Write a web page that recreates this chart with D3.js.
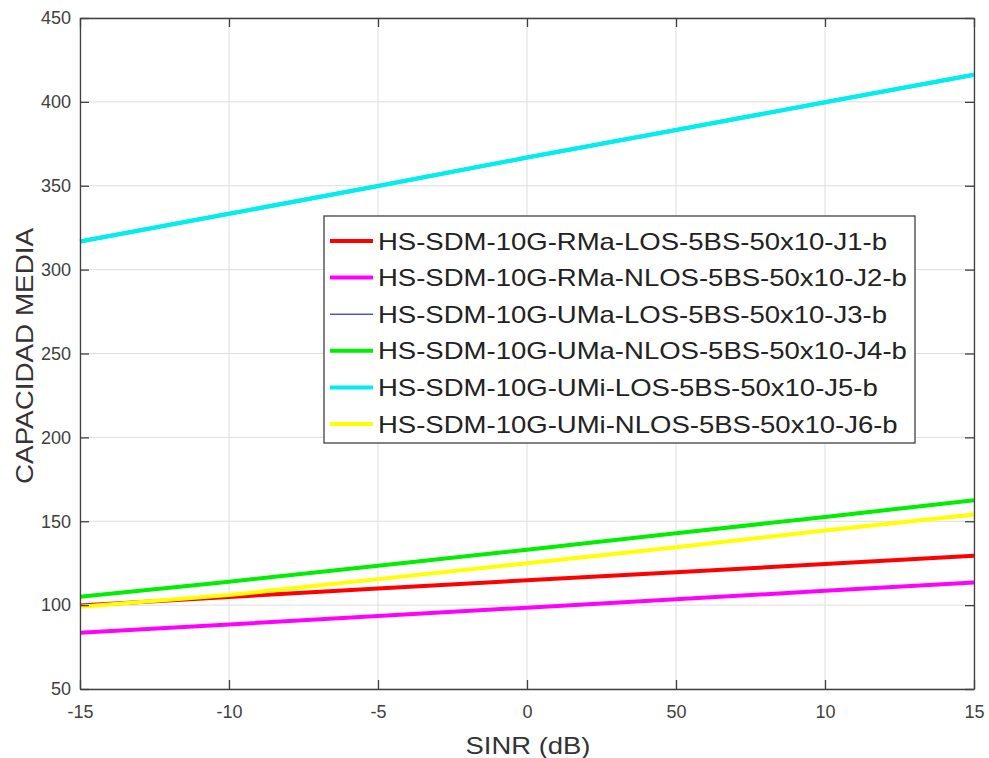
<!DOCTYPE html>
<html><head><meta charset="utf-8">
<script src="https://cdn.jsdelivr.net/npm/d3@7"></script>
<style>body{margin:0;background:#fff;font-family:Arial,"Liberation Sans",sans-serif}</style>
</head><body><svg id="c" width="989" height="758"></svg>
<script>
const xValues = [-15, -10, -5, 0, 5, 10, 15];
const xTickLabels = ["-15", "-10", "-5", "0", "50", "10", "15"];
const yTicks = [50, 100, 150, 200, 250, 300, 350, 400, 450];
const seriesNames = [
  "HS-SDM-10G-RMa-LOS-5BS-50x10-J1-b",
  "HS-SDM-10G-RMa-NLOS-5BS-50x10-J2-b",
  "HS-SDM-10G-UMa-LOS-5BS-50x10-J3-b",
  "HS-SDM-10G-UMa-NLOS-5BS-50x10-J4-b",
  "HS-SDM-10G-UMi-LOS-5BS-50x10-J5-b",
  "HS-SDM-10G-UMi-NLOS-5BS-50x10-J6-b"
];
const seriesColors = ["#ff0000", "#ff00ff", "#0000aa", "#00ee00", "#00eeee", "#ffff00"];
const seriesWidths = [4, 4, 1, 4, 4, 4];
const j1 = [99.8, 104.9, 109.9, 114.8, 119.6, 124.5, 129.4];
const j2 = [83.5, 88.5, 93.5, 98.5, 103.5, 108.5, 113.5];
const j3 = [316.8, 333.3, 349.8, 366.8, 383.2, 399.8, 416.2];
const j4 = [105, 114, 123.5, 133, 142.8, 152.6, 162.5];
const j5 = [316.8, 333.3, 349.8, 366.8, 383.2, 399.8, 416.2];
const j6 = [99, 106, 115.5, 125, 134.5, 144.5, 154];
const seriesValues = [j1, j2, j3, j4, j5, j6];

const FONT = "Arial, 'Liberation Sans', sans-serif";
const svg = d3.select("#c");
const L = 80, R = 974, T = 18, B = 689;
const x = d3.scaleLinear().domain([-15, 15]).range([L, R]);
const y = d3.scaleLinear().domain([50, 450]).range([B, T]);

// grid
const g = svg.append("g");
g.selectAll(".gx").data(xValues).enter().append("line")
  .attr("x1", d => x(d)).attr("x2", d => x(d)).attr("y1", T).attr("y2", B)
  .attr("stroke", "#dedede").attr("stroke-width", 1);
g.selectAll(".gy").data(yTicks).enter().append("line")
  .attr("x1", L).attr("x2", R).attr("y1", d => y(d)).attr("y2", d => y(d))
  .attr("stroke", "#dedede").attr("stroke-width", 1);

// lines
const line = d3.line().x((d, i) => x(xValues[i])).y(d => y(d));
seriesValues.forEach((vals, k) => {
  svg.append("path").datum(vals).attr("d", line)
    .attr("fill", "none").attr("stroke", seriesColors[k]).attr("stroke-width", seriesWidths[k]);
});
// cyan re-drawn on top of the blue series it hides
svg.append("path").datum(j5).attr("d", line).attr("fill", "none")
  .attr("stroke", seriesColors[4]).attr("stroke-width", 4);

// axes
const axisColor = "#404040";
const xb = svg.append("g").attr("transform", `translate(0,${B})`)
  .call(d3.axisBottom(x).tickValues(xValues).tickFormat((d, i) => xTickLabels[i]).tickSizeInner(-9).tickSizeOuter(0).tickPadding(16));
const xt = svg.append("g").attr("transform", `translate(0,${T})`)
  .call(d3.axisTop(x).tickValues(xValues).tickFormat("").tickSizeInner(-9).tickSizeOuter(0));
const yl = svg.append("g").attr("transform", `translate(${L},0)`)
  .call(d3.axisLeft(y).tickValues(yTicks).tickSizeInner(-9).tickSizeOuter(0).tickPadding(9));
const yr = svg.append("g").attr("transform", `translate(${R},0)`)
  .call(d3.axisRight(y).tickValues(yTicks).tickFormat("").tickSizeInner(-9).tickSizeOuter(0));
[xb, xt, yl, yr].forEach(a => {
  a.select(".domain").attr("stroke", axisColor).attr("stroke-width", 1.3);
  a.selectAll(".tick line").attr("stroke", axisColor).attr("stroke-width", 1.3);
  a.selectAll("text").attr("fill", axisColor).attr("font-size", 18).attr("font-family", FONT);
});

// axis labels
svg.append("text").attr("x", 528).attr("y", 754).attr("text-anchor", "middle")
  .attr("font-size", 24).attr("fill", "#333").attr("font-family", FONT)
  .attr("textLength", 125).attr("lengthAdjust", "spacingAndGlyphs").text("SINR (dB)");
svg.append("text").attr("transform", `translate(33,356) rotate(-90)`).attr("text-anchor", "middle")
  .attr("font-size", 24).attr("fill", "#333").attr("font-family", FONT)
  .attr("textLength", 256).attr("lengthAdjust", "spacingAndGlyphs").text("CAPACIDAD MEDIA");

// legend
const lg = svg.append("g");
lg.append("rect").attr("x", 324).attr("y", 216).attr("width", 591).attr("height", 227)
  .attr("fill", "#fff").attr("stroke", "#404040").attr("stroke-width", 1.3);
const texts = [];
seriesNames.forEach((n, k) => {
  const cy = 241 + k * 36.6;
  lg.append("line").attr("x1", 330).attr("x2", 373).attr("y1", cy).attr("y2", cy)
    .attr("stroke", seriesColors[k]).attr("stroke-width", seriesWidths[k]);
  texts.push(lg.append("text").attr("x", 378).attr("y", cy).attr("dy", "0.36em")
    .attr("font-size", 24).attr("fill", "#222").attr("font-family", FONT).text(n));
});
const stretch = 509 / texts[0].node().getComputedTextLength();
texts.forEach(t => {
  const w = t.node().getComputedTextLength();
  t.attr("textLength", w * stretch).attr("lengthAdjust", "spacingAndGlyphs");
});
</script></body></html>
